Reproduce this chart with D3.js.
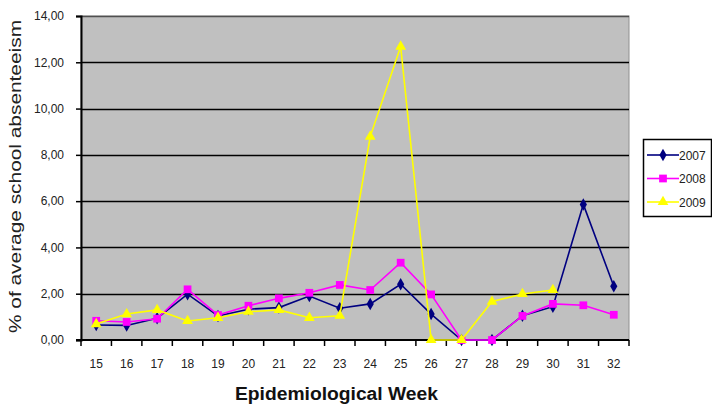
<!DOCTYPE html>
<html>
<head>
<meta charset="utf-8">
<script src="https://cdn.jsdelivr.net/npm/d3@7"></script>
<style>
  body { margin: 0; background: #fff; }
  text { font-family: Arial, "Liberation Sans", sans-serif; }
</style>
</head>
<body>
<svg id="chart" width="712" height="407"></svg>
<script>
var w = 712;
var h = 407;
var margin = {left: 81, right: 83, top: 16, bottom: 67};

// weeks on the x axis
var weeks = [15, 16, 17, 18, 19, 20, 21, 22, 23, 24, 25, 26, 27, 28, 29, 30, 31, 32];
var yTicks = [0, 2, 4, 6, 8, 10, 12, 14];
var seriesNames = ["2007", "2008", "2009"];

// % of average school absenteeism
var v2007 = [0.65, 0.63, 0.94, 1.98, 1.04, 1.33, 1.40, 1.90, 1.37, 1.56, 2.41, 1.12, 0, 0, 1.05, 1.44, 5.86, 2.32];
var v2008 = [0.83, 0.78, 0.92, 2.19, 1.08, 1.48, 1.80, 2.04, 2.38, 2.16, 3.34, 1.97, 0, 0, 1.04, 1.56, 1.50, 1.09];
var v2009 = [0.69, 1.12, 1.30, 0.82, 0.96, 1.22, 1.30, 0.96, 1.05, 8.79, 12.68, 0, 0, 1.66, 1.99, 2.16, null, null];

var colorKey = {"2007": "#000080", "2008": "#ff00ff", "2009": "#ffff00"};
var shapeKey = {"2007": d3.symbolDiamond, "2008": d3.symbolSquare, "2009": d3.symbolTriangle};
var sizeKey = {"2007": 45, "2008": 60, "2009": 50};

var series = [
  {name: "2007", values: v2007},
  {name: "2008", values: v2008},
  {name: "2009", values: v2009}
];

var svg = d3.select("#chart");
var pw = w - margin.left - margin.right;
var ph = h - margin.top - margin.bottom;

var x = d3.scaleBand().domain(weeks).range([margin.left, margin.left + pw]);
var y = d3.scaleLinear().domain([0, 14]).range([margin.top + ph, margin.top]);

// plot background
svg.append("rect")
  .attr("x", margin.left).attr("y", margin.top)
  .attr("width", pw).attr("height", ph)
  .style("fill", "#c0c0c0")
  .style("stroke", "#909090")
  .style("stroke-width", 1);

// gridlines
svg.selectAll(".grid")
  .data(yTicks.filter(function(d){ return d > 0; }))
  .enter()
  .append("line")
  .attr("class", "grid")
  .attr("x1", margin.left).attr("x2", margin.left + pw)
  .attr("y1", function(d){ return Math.round(y(d)) + 0.5; })
  .attr("y2", function(d){ return Math.round(y(d)) + 0.5; })
  .style("stroke", function(d){ return d == 14 ? "#505050" : "#000"; })
  .style("stroke-width", 1.5);

// y axis
var yAxis = d3.axisLeft(y)
  .tickValues(yTicks)
  .tickSize(5)
  .tickFormat(function(d){ return d3.format(".2f")(d).replace(".", ","); });
var gy = svg.append("g")
  .attr("transform", "translate(" + margin.left + ",0)")
  .call(yAxis);
gy.select(".domain").style("stroke", "#000").style("stroke-width", 2);
gy.selectAll(".tick line").style("stroke", "#000").style("stroke-width", 1.5);
gy.selectAll("text").style("font-size", "12px").style("fill", "#222").attr("x", -17);

// x axis: ticks between the categories
var gx = svg.append("g")
  .attr("transform", "translate(0," + (margin.top + ph) + ")");
gx.append("line")
  .attr("x1", margin.left - 5).attr("x2", margin.left + pw)
  .style("stroke", "#000").style("stroke-width", 2);
gx.selectAll(".xtick")
  .data(weeks.concat(["end"]))
  .enter()
  .append("line")
  .attr("class", "xtick")
  .attr("x1", function(d, i){ return margin.left + i * x.bandwidth(); })
  .attr("x2", function(d, i){ return margin.left + i * x.bandwidth(); })
  .attr("y1", 0).attr("y2", 6)
  .style("stroke", "#000").style("stroke-width", 1.5);
gx.selectAll(".xlabel")
  .data(weeks)
  .enter()
  .append("text")
  .attr("class", "xlabel")
  .attr("x", function(d){ return x(d) + x.bandwidth() / 2; })
  .attr("y", 28)
  .attr("text-anchor", "middle")
  .style("font-size", "12px")
  .style("fill", "#222")
  .text(function(d){ return d; });

// lines + markers
var line = d3.line()
  .defined(function(d){ return d.v != null; })
  .x(function(d){ return x(d.week) + x.bandwidth() / 2; })
  .y(function(d){ return y(d.v); });

series.forEach(function(s){
  var pts = s.values.map(function(v, i){ return {week: weeks[i], v: v}; });
  svg.append("path")
    .datum(pts)
    .attr("d", line)
    .style("fill", "none")
    .style("stroke", colorKey[s.name])
    .style("stroke-width", 1.6);
  svg.selectAll(".m" + s.name)
    .data(pts.filter(function(d){ return d.v != null; }))
    .enter()
    .append("path")
    .attr("class", "m" + s.name)
    .attr("d", d3.symbol().type(shapeKey[s.name]).size(sizeKey[s.name]))
    .attr("transform", function(d){
      return "translate(" + (x(d.week) + x.bandwidth() / 2) + "," + y(d.v) + ")";
    })
    .style("fill", colorKey[s.name]);
});

// axis titles
svg.append("text")
  .attr("transform", "translate(21,176.5) rotate(-90)")
  .attr("text-anchor", "middle")
  .attr("textLength", 313)
  .attr("lengthAdjust", "spacingAndGlyphs")
  .style("font-size", "16px")
  .style("fill", "#222")
  .text("% of average school absenteeism");

svg.append("text")
  .attr("x", 336.5).attr("y", 400)
  .attr("text-anchor", "middle")
  .attr("textLength", 203)
  .attr("lengthAdjust", "spacingAndGlyphs")
  .style("font-size", "18px")
  .style("font-weight", "bold")
  .style("fill", "#111")
  .text("Epidemiological Week");

// legend
var legend = svg.append("g").attr("transform", "translate(643,139)");
legend.append("rect")
  .attr("x", 0.5).attr("y", 0.5)
  .attr("width", 68).attr("height", 77)
  .style("fill", "#fff")
  .style("stroke", "#000")
  .style("stroke-width", 1.5);
var items = legend.selectAll(".item")
  .data(seriesNames)
  .enter()
  .append("g")
  .attr("transform", function(d, i){ return "translate(0," + (16 + i * 23.5) + ")"; });
items.append("line")
  .attr("x1", 4).attr("x2", 36)
  .style("stroke", function(d){ return colorKey[d]; })
  .style("stroke-width", 1.6);
items.append("path")
  .attr("d", function(d){ return d3.symbol().type(shapeKey[d]).size(sizeKey[d])(); })
  .attr("transform", "translate(20,0)")
  .style("fill", function(d){ return colorKey[d]; });
items.append("text")
  .attr("x", 36).attr("y", 4.5)
  .style("font-size", "12px")
  .style("fill", "#222")
  .text(function(d){ return d; });
</script>
</body>
</html>
